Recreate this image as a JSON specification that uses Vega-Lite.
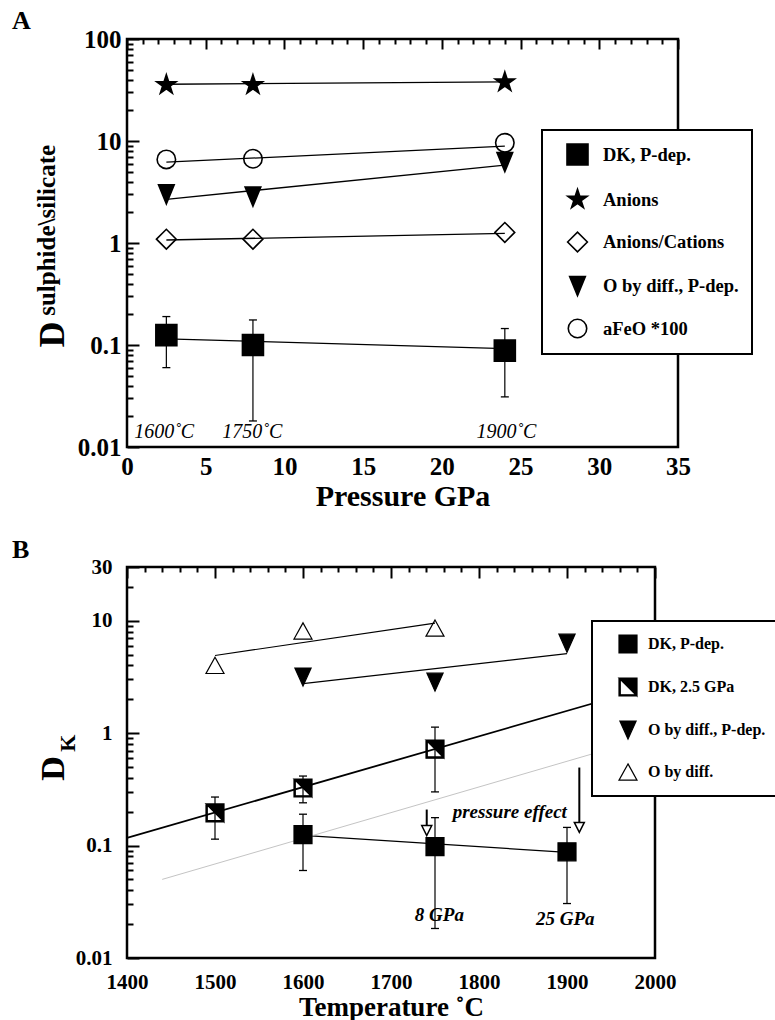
{
  "$schema": "https://vega.github.io/schema/vega-lite/v6.json",
  "background": "white",
  "padding": {"left": 10, "top": 6, "right": 0, "bottom": 0},
  "spacing": 22,
  "config": {
    "view": {"stroke": "black", "strokeWidth": 2.5},
    "font": "Liberation Serif",
    "axis": {"ticks": false, "tickSize": 0, "domainColor": "black", "domainWidth": 2.5, "gridColor": "black", "gridWidth": 2, "gridOpacity": 1, "labelColor": "black", "labelFont": "Liberation Serif", "labelFontWeight": "bold", "titleColor": "black", "titleFont": "Liberation Serif", "titleFontWeight": "bold", "labelFlush": false, "labelOverlap": false, "labelBound": false},
    "legend": {"labelFont": "Liberation Serif", "labelFontWeight": "bold", "labelColor": "black", "fillColor": "white", "strokeColor": "black", "strokeWidth": 2, "labelLimit": 400},
    "title": {"font": "Liberation Serif", "fontWeight": "bold", "color": "black", "anchor": "start", "frame": "group"}
  },
  "datasets": {
    "ptsA": [
      {"seriesA": "DK, P-dep.", "P": 2.5, "D": 0.125},
      {"seriesA": "DK, P-dep.", "P": 8, "D": 0.1},
      {"seriesA": "DK, P-dep.", "P": 24, "D": 0.088},
      {"seriesA": "Anions", "P": 2.5, "D": 35.5},
      {"seriesA": "Anions", "P": 8, "D": 35.5},
      {"seriesA": "Anions", "P": 24, "D": 37.8},
      {"seriesA": "Anions/Cations", "P": 2.5, "D": 1.09},
      {"seriesA": "Anions/Cations", "P": 8, "D": 1.09},
      {"seriesA": "Anions/Cations", "P": 24, "D": 1.27},
      {"seriesA": "O by diff., P-dep.", "P": 2.5, "D": 3.0},
      {"seriesA": "O by diff., P-dep.", "P": 8, "D": 2.85},
      {"seriesA": "O by diff., P-dep.", "P": 24, "D": 6.2},
      {"seriesA": "aFeO *100", "P": 2.5, "D": 6.6},
      {"seriesA": "aFeO *100", "P": 8, "D": 6.7},
      {"seriesA": "aFeO *100", "P": 24, "D": 9.6}
    ],
    "fitA": [
      {"seriesA": "DK, P-dep.", "P": 2.5, "D": 0.115},
      {"seriesA": "DK, P-dep.", "P": 24, "D": 0.092},
      {"seriesA": "Anions", "P": 2.5, "D": 36},
      {"seriesA": "Anions", "P": 24, "D": 38},
      {"seriesA": "Anions/Cations", "P": 2.5, "D": 1.07},
      {"seriesA": "Anions/Cations", "P": 24, "D": 1.24},
      {"seriesA": "O by diff., P-dep.", "P": 2.5, "D": 2.68},
      {"seriesA": "O by diff., P-dep.", "P": 24, "D": 5.8},
      {"seriesA": "aFeO *100", "P": 2.5, "D": 6.2},
      {"seriesA": "aFeO *100", "P": 24, "D": 8.9}
    ],
    "errA": [
      {"P": 2.5, "lo": 0.06, "hi": 0.19},
      {"P": 8, "lo": 0.018, "hi": 0.176},
      {"P": 24, "lo": 0.031, "hi": 0.145}
    ],
    "txtA": [
      {"P": 2.36, "D": 0.014, "label": "1600˚C"},
      {"P": 7.96, "D": 0.014, "label": "1750˚C"},
      {"P": 24.1, "D": 0.014, "label": "1900˚C"}
    ],
    "supA": [
      {"P": -4.58, "D": 1.33, "label": "sulphide\\silicate"}
    ],
    "ptsB": [
      {"seriesB": "O by diff.", "T": 1500, "D": 4.0},
      {"seriesB": "O by diff.", "T": 1600, "D": 8.1},
      {"seriesB": "O by diff.", "T": 1750, "D": 8.6},
      {"seriesB": "O by diff., P-dep.", "T": 1600, "D": 3.15},
      {"seriesB": "O by diff., P-dep.", "T": 1750, "D": 2.84},
      {"seriesB": "O by diff., P-dep.", "T": 1900, "D": 6.3},
      {"seriesB": "DK, 2.5 GPa", "T": 1500, "D": 0.195},
      {"seriesB": "DK, 2.5 GPa", "T": 1600, "D": 0.325},
      {"seriesB": "DK, 2.5 GPa", "T": 1750, "D": 0.72},
      {"seriesB": "DK, P-dep.", "T": 1600, "D": 0.125},
      {"seriesB": "DK, P-dep.", "T": 1750, "D": 0.098},
      {"seriesB": "DK, P-dep.", "T": 1900, "D": 0.088}
    ],
    "fitB": [
      {"fit": "O by diff.", "T": 1500, "D": 4.9},
      {"fit": "O by diff.", "T": 1750, "D": 9.5},
      {"fit": "O by diff., P-dep.", "T": 1600, "D": 2.75},
      {"fit": "O by diff., P-dep.", "T": 1900, "D": 5.1},
      {"fit": "DK, P-dep.", "T": 1600, "D": 0.123},
      {"fit": "DK, P-dep.", "T": 1900, "D": 0.087},
      {"fit": "DK, 2.5 GPa", "T": 1400, "D": 0.117},
      {"fit": "DK, 2.5 GPa", "T": 2000, "D": 2.65},
      {"fit": "trend", "T": 1440, "D": 0.05},
      {"fit": "trend", "T": 2000, "D": 0.95}
    ],
    "errB": [
      {"T": 1500, "lo": 0.114, "hi": 0.27},
      {"T": 1600, "lo": 0.24, "hi": 0.415},
      {"T": 1750, "lo": 0.3, "hi": 1.13},
      {"T": 1600, "lo": 0.06, "hi": 0.19},
      {"T": 1750, "lo": 0.0183, "hi": 0.177},
      {"T": 1900, "lo": 0.0305, "hi": 0.145}
    ],
    "arrowB": [
      {"T": 1740.6, "top": 0.209, "head": 0.136},
      {"T": 1914, "top": 0.494, "head": 0.145}
    ],
    "txtB": [
      {"T": 1835, "D": 0.197, "label": "pressure effect"},
      {"T": 1755, "D": 0.0243, "label": "8 GPa"},
      {"T": 1898, "D": 0.0224, "label": "25 GPa"}
    ],
    "subB": [
      {"T": 1340.8, "D": 0.815, "label": "K"}
    ]
  },
  "resolve": {
    "scale": {"x": "independent", "y": "independent", "shape": "independent", "fill": "independent", "size": "independent", "stroke": "independent"},
    "axis": {"x": "independent", "y": "independent"},
    "legend": {"shape": "independent", "fill": "independent", "size": "independent", "stroke": "independent"}
  },
  "vconcat": [
    {
      "width": 551,
      "height": 408,
      "title": {"text": "A", "fontSize": 26, "dx": -115, "offset": -7},
      "resolve": {"scale": {"x": "independent", "y": "independent"}, "axis": {"x": "independent", "y": "independent"}},
      "layer": [
        {
          "data": {"name": "fitA"},
          "mark": {"type": "line", "color": "black", "strokeWidth": 1.3},
          "encoding": {
            "x": {"field": "P", "type": "quantitative", "scale": {"domain": [0, 35], "nice": false, "zero": false},
              "axis": {"orient": "bottom", "values": [1,2,3,4,6,7,8,9,11,12,13,14,16,17,18,19,21,22,23,24,26,27,28,29,31,32,33,34],
                "grid": true, "gridDash": [5, 2000], "labels": false, "domain": false, "title": null}},
            "y": {"field": "D", "type": "quantitative", "scale": {"type": "log", "domain": [0.01, 100], "nice": false},
              "axis": {"orient": "left", "values": [0.02,0.03,0.04,0.05,0.06,0.07,0.08,0.09,0.2,0.3,0.4,0.5,0.6,0.7,0.8,0.9,2,3,4,5,6,7,8,9,20,30,40,50,60,70,80,90],
                "grid": true, "gridDash": [6, 2000], "labels": false, "domain": false, "title": null}},
            "detail": {"field": "seriesA"}
          }
        },
        {
          "layer": [
            {
              "data": {"name": "errA"},
              "mark": {"type": "rule", "color": "black", "strokeWidth": 1.2},
              "encoding": {
                "x": {"field": "P", "type": "quantitative", "scale": {"domain": [0, 35], "nice": false, "zero": false},
                  "axis": {"orient": "bottom", "values": [0,5,10,15,20,25,30,35], "format": "d", "grid": true, "gridDash": [10, 2000], "domain": false,
                    "labelPadding": 7, "labelFontSize": 25, "labelOverlap": false, "title": "Pressure GPa", "titleFontSize": 30, "titlePadding": 2}},
                "y": {"field": "lo", "type": "quantitative", "scale": {"type": "log", "domain": [0.01, 100], "nice": false},
                  "axis": {"orient": "left", "values": [0.01,0.1,1,10,100], "format": "~g", "grid": true, "gridDash": [12, 2000], "domain": false,
                    "labelPadding": 6, "labelFontSize": 25, "labelOverlap": false,
                    "title": "D", "titleFontSize": 36, "titleAngle": 270, "titleAlign": "center", "titleBaseline": "alphabetic", "titleX": -64, "titleY": 295}},
                "y2": {"field": "hi"}
              }
            },
            {
              "data": {"name": "errA"},
              "transform": [{"fold": ["lo", "hi"], "as": ["end", "v"]}],
              "mark": {"type": "tick", "orient": "horizontal", "size": 8, "thickness": 1.3, "color": "black", "opacity": 1},
              "encoding": {
                "x": {"field": "P", "type": "quantitative", "scale": {"domain": [0, 35], "nice": false, "zero": false}},
                "y": {"field": "v", "type": "quantitative", "scale": {"type": "log", "domain": [0.01, 100], "nice": false}}
              }
            },
            {
              "data": {"name": "ptsA"},
              "mark": {"type": "point", "strokeWidth": 1.6, "opacity": 1},
              "encoding": {
                "x": {"field": "P", "type": "quantitative", "scale": {"domain": [0, 35], "nice": false, "zero": false}},
                "y": {"field": "D", "type": "quantitative", "scale": {"type": "log", "domain": [0.01, 100], "nice": false}},
                "shape": {"field": "seriesA", "type": "nominal",
                  "scale": {"domain": ["DK, P-dep.", "Anions", "Anions/Cations", "O by diff., P-dep.", "aFeO *100"],
                    "range": ["square", "M0,-1L0.225,-0.309L0.951,-0.309L0.363,0.118L0.588,0.809L0,0.382L-0.588,0.809L-0.363,0.118L-0.951,-0.309L-0.225,-0.309Z", "diamond", "M-0.82,-1L0.82,-1L0,1Z", "circle"]},
                  "legend": {"orient": "none", "legendX": 415, "legendY": 91, "title": null, "padding": 13, "symbolOffset": 11, "rowPadding": 16.5, "labelFontSize": 18.5, "labelOffset": 14, "symbolStrokeWidth": 1.6}},
                "fill": {"field": "seriesA", "type": "nominal",
                  "scale": {"domain": ["DK, P-dep.", "Anions", "Anions/Cations", "O by diff., P-dep.", "aFeO *100"],
                    "range": ["black", "black", "transparent", "black", "transparent"]},
                  "legend": {"orient": "none", "legendX": 415, "legendY": 91, "title": null, "padding": 13, "symbolOffset": 11, "rowPadding": 16.5, "labelFontSize": 18.5, "labelOffset": 14, "symbolStrokeWidth": 1.6}},
                "stroke": {"field": "seriesA", "type": "nominal",
                  "scale": {"domain": ["DK, P-dep.", "Anions", "Anions/Cations", "O by diff., P-dep.", "aFeO *100"],
                    "range": ["black", "black", "black", "black", "black"]},
                  "legend": {"orient": "none", "legendX": 415, "legendY": 91, "title": null, "padding": 13, "symbolOffset": 11, "rowPadding": 16.5, "labelFontSize": 18.5, "labelOffset": 14, "symbolStrokeWidth": 1.6}},
                "size": {"field": "seriesA", "type": "nominal",
                  "scale": {"domain": ["DK, P-dep.", "Anions", "Anions/Cations", "O by diff., P-dep.", "aFeO *100"],
                    "range": [441, 340, 484, 484, 180]},
                  "legend": {"orient": "none", "legendX": 415, "legendY": 91, "title": null, "padding": 13, "symbolOffset": 11, "rowPadding": 16.5, "labelFontSize": 18.5, "labelOffset": 14, "symbolStrokeWidth": 1.6}}
              }
            },
            {
              "data": {"name": "txtA"},
              "mark": {"type": "text", "fontStyle": "italic", "fontSize": 20, "baseline": "middle", "align": "center", "color": "black"},
              "encoding": {
                "x": {"field": "P", "type": "quantitative", "scale": {"domain": [0, 35], "nice": false, "zero": false}},
                "y": {"field": "D", "type": "quantitative", "scale": {"type": "log", "domain": [0.01, 100], "nice": false}},
                "text": {"field": "label"}
              }
            },
            {
              "data": {"name": "supA"},
              "mark": {"type": "text", "fontWeight": "bold", "fontSize": 25, "angle": 270, "baseline": "alphabetic", "align": "center", "color": "black"},
              "encoding": {
                "x": {"field": "P", "type": "quantitative", "scale": {"domain": [0, 35], "nice": false, "zero": false}},
                "y": {"field": "D", "type": "quantitative", "scale": {"type": "log", "domain": [0.01, 100], "nice": false}},
                "text": {"field": "label"}
              }
            }
          ]
        }
      ]
    },
    {
      "width": 528,
      "height": 391,
      "title": {"text": "B", "fontSize": 26, "dx": -115, "offset": -7},
      "resolve": {"scale": {"x": "independent", "y": "independent"}, "axis": {"x": "independent", "y": "independent"}},
      "layer": [
        {
          "data": {"name": "fitB"},
          "transform": [{"filter": {"field": "fit", "oneOf": ["O by diff.", "O by diff., P-dep.", "DK, P-dep."]}}],
          "mark": {"type": "line", "color": "black", "strokeWidth": 1.2},
          "encoding": {
            "x": {"field": "T", "type": "quantitative", "scale": {"domain": [1400, 2000], "nice": false, "zero": false},
              "axis": {"orient": "bottom", "values": [1420,1440,1460,1480,1520,1540,1560,1580,1620,1640,1660,1680,1720,1740,1760,1780,1820,1840,1860,1880,1920,1940,1960,1980],
                "grid": true, "gridDash": [5, 2000], "labels": false, "domain": false, "title": null}},
            "y": {"field": "D", "type": "quantitative", "scale": {"type": "log", "domain": [0.01, 30], "nice": false},
              "axis": {"orient": "left", "values": [0.02,0.03,0.04,0.05,0.06,0.07,0.08,0.09,0.2,0.3,0.4,0.5,0.6,0.7,0.8,0.9,2,3,4,5,6,7,8,9,20],
                "grid": true, "gridDash": [6, 2000], "labels": false, "domain": false, "title": null}},
            "detail": {"field": "fit"}
          }
        },
        {
          "layer": [
            {
              "data": {"name": "fitB"},
              "transform": [{"filter": {"field": "fit", "equal": "DK, 2.5 GPa"}}],
              "mark": {"type": "line", "color": "black", "strokeWidth": 1.8},
              "encoding": {
                "x": {"field": "T", "type": "quantitative", "scale": {"domain": [1400, 2000], "nice": false, "zero": false},
                  "axis": {"orient": "bottom", "values": [1400,1500,1600,1700,1800,1900,2000], "format": "d", "grid": true, "gridDash": [11, 2000], "domain": false,
                    "labelPadding": 13, "labelFontSize": 21, "labelOverlap": false, "title": "Temperature ˚C", "titleFontSize": 27, "titlePadding": 2}},
                "y": {"field": "D", "type": "quantitative", "scale": {"type": "log", "domain": [0.01, 30], "nice": false},
                  "axis": {"orient": "left", "values": [0.01,0.1,1,10,30], "format": "~g", "grid": true, "gridDash": [12, 2000], "domain": false,
                    "labelPadding": 15, "labelFontSize": 21, "labelOverlap": false,
                    "title": "D", "titleFontSize": 34, "titleAngle": 270, "titleAlign": "center", "titleBaseline": "alphabetic", "titleX": -64, "titleY": 201}}
              }
            },
            {
              "data": {"name": "fitB"},
              "transform": [{"filter": {"field": "fit", "equal": "trend"}}],
              "mark": {"type": "line", "color": "#c4c4c4", "strokeWidth": 1},
              "encoding": {
                "x": {"field": "T", "type": "quantitative", "scale": {"domain": [1400, 2000], "nice": false, "zero": false}},
                "y": {"field": "D", "type": "quantitative", "scale": {"type": "log", "domain": [0.01, 30], "nice": false}}
              }
            },
            {
              "data": {"name": "errB"},
              "mark": {"type": "rule", "color": "black", "strokeWidth": 1.2},
              "encoding": {
                "x": {"field": "T", "type": "quantitative", "scale": {"domain": [1400, 2000], "nice": false, "zero": false}},
                "y": {"field": "lo", "type": "quantitative", "scale": {"type": "log", "domain": [0.01, 30], "nice": false}},
                "y2": {"field": "hi"}
              }
            },
            {
              "data": {"name": "errB"},
              "transform": [{"fold": ["lo", "hi"], "as": ["end", "v"]}],
              "mark": {"type": "tick", "orient": "horizontal", "size": 8, "thickness": 1.3, "color": "black", "opacity": 1},
              "encoding": {
                "x": {"field": "T", "type": "quantitative", "scale": {"domain": [1400, 2000], "nice": false, "zero": false}},
                "y": {"field": "v", "type": "quantitative", "scale": {"type": "log", "domain": [0.01, 30], "nice": false}}
              }
            },
            {
              "data": {"name": "arrowB"},
              "mark": {"type": "rule", "color": "black", "strokeWidth": 2},
              "encoding": {
                "x": {"field": "T", "type": "quantitative", "scale": {"domain": [1400, 2000], "nice": false, "zero": false}},
                "y": {"field": "top", "type": "quantitative", "scale": {"type": "log", "domain": [0.01, 30], "nice": false}},
                "y2": {"field": "head"}
              }
            },
            {
              "data": {"name": "arrowB"},
              "mark": {"type": "point", "shape": "M-1,-1L1,-1L0,1Z", "size": 100, "fill": "white", "stroke": "black", "strokeWidth": 1.5, "opacity": 1, "filled": true},
              "encoding": {
                "x": {"field": "T", "type": "quantitative", "scale": {"domain": [1400, 2000], "nice": false, "zero": false}},
                "y": {"field": "head", "type": "quantitative", "scale": {"type": "log", "domain": [0.01, 30], "nice": false}}
              }
            },
            {
              "data": {"name": "ptsB"},
              "mark": {"type": "point", "strokeWidth": 1.2, "opacity": 1},
              "encoding": {
                "x": {"field": "T", "type": "quantitative", "scale": {"domain": [1400, 2000], "nice": false, "zero": false}},
                "y": {"field": "D", "type": "quantitative", "scale": {"type": "log", "domain": [0.01, 30], "nice": false}},
                "shape": {"field": "seriesB", "type": "nominal",
                  "scale": {"domain": ["DK, P-dep.", "DK, 2.5 GPa", "O by diff., P-dep.", "O by diff."],
                    "range": ["square", "M-1,-1L1,-1L1,1L-1,1ZM-0.86,-0.86L-0.86,0.86L0.86,0.86L0.86,-0.86ZM-1,-1L1,-1L1,1Z", "M-0.9,-1L0.9,-1L0,1Z", "M0,-0.9L1,0.9L-1,0.9Z"]},
                  "legend": {"orient": "none", "legendX": 465, "legendY": 54, "title": null, "padding": 13, "symbolOffset": 13, "rowPadding": 19, "labelFontSize": 16, "labelOffset": 10, "symbolStrokeWidth": 1.2}},
                "fill": {"field": "seriesB", "type": "nominal",
                  "scale": {"domain": ["DK, P-dep.", "DK, 2.5 GPa", "O by diff., P-dep.", "O by diff."],
                    "range": ["black", "black", "black", "transparent"]},
                  "legend": {"orient": "none", "legendX": 465, "legendY": 54, "title": null, "padding": 13, "symbolOffset": 13, "rowPadding": 19, "labelFontSize": 16, "labelOffset": 10, "symbolStrokeWidth": 1.2}},
                "stroke": {"field": "seriesB", "type": "nominal",
                  "scale": {"domain": ["DK, P-dep.", "DK, 2.5 GPa", "O by diff., P-dep.", "O by diff."],
                    "range": ["black", "black", "black", "black"]},
                  "legend": {"orient": "none", "legendX": 465, "legendY": 54, "title": null, "padding": 13, "symbolOffset": 13, "rowPadding": 19, "labelFontSize": 16, "labelOffset": 10, "symbolStrokeWidth": 1.2}},
                "size": {"field": "seriesB", "type": "nominal",
                  "scale": {"domain": ["DK, P-dep.", "DK, 2.5 GPa", "O by diff., P-dep.", "O by diff."],
                    "range": [324, 324, 400, 400]},
                  "legend": {"orient": "none", "legendX": 465, "legendY": 54, "title": null, "padding": 13, "symbolOffset": 13, "rowPadding": 19, "labelFontSize": 16, "labelOffset": 10, "symbolStrokeWidth": 1.2}}
              }
            },
            {
              "data": {"name": "txtB"},
              "mark": {"type": "text", "fontStyle": "italic", "fontWeight": "bold", "fontSize": 19, "baseline": "middle", "align": "center", "color": "black"},
              "encoding": {
                "x": {"field": "T", "type": "quantitative", "scale": {"domain": [1400, 2000], "nice": false, "zero": false}},
                "y": {"field": "D", "type": "quantitative", "scale": {"type": "log", "domain": [0.01, 30], "nice": false}},
                "text": {"field": "label"}
              }
            },
            {
              "data": {"name": "subB"},
              "mark": {"type": "text", "fontWeight": "bold", "fontSize": 22, "angle": 270, "baseline": "alphabetic", "align": "center", "color": "black"},
              "encoding": {
                "x": {"field": "T", "type": "quantitative", "scale": {"domain": [1400, 2000], "nice": false, "zero": false}},
                "y": {"field": "D", "type": "quantitative", "scale": {"type": "log", "domain": [0.01, 30], "nice": false}},
                "text": {"field": "label"}
              }
            }
          ]
        }
      ]
    }
  ]
}
